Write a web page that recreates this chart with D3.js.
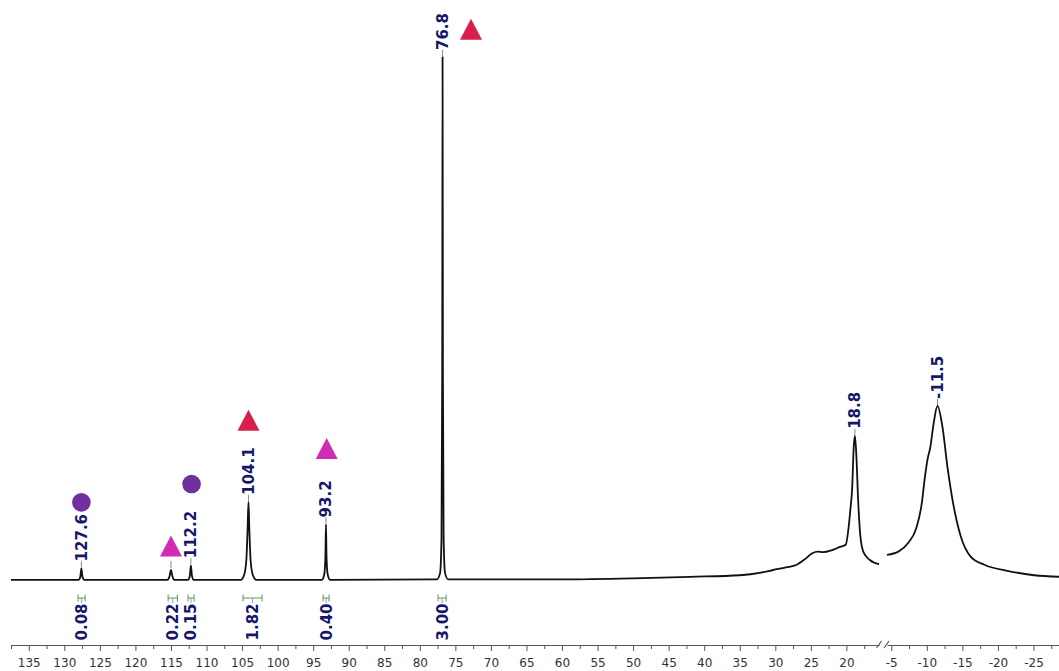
<!DOCTYPE html>
<html>
<head>
<meta charset="utf-8">
<script src="https://cdn.jsdelivr.net/npm/d3@7"></script>
<style>
  body { margin: 0; background: #fff; }
  svg { display: block; font-family: "DejaVu Sans", Verdana, sans-serif; }
</style>
</head>
<body>
<svg id="chart" width="1059" height="671"></svg>
<script>
// spectrum trace, [ppm, intensity] (76.8 peak = 100)
var leftTrace = [
  [137.5, 0.2], [130, 0.2], [128.0, 0.2], [127.75, 0.8], [127.6, 2.4], [127.45, 0.8], [127.2, 0.2],
  [115.5, 0.2], [115.2, 0.9], [115.0, 2.1], [114.8, 0.9], [114.5, 0.2],
  [112.6, 0.2], [112.35, 1.0], [112.2, 3.0], [112.05, 1.0], [111.8, 0.2],
  [105.2, 0.2], [104.7, 1.2], [104.4, 4], [104.22, 10], [104.1, 15.1], [103.98, 10], [103.8, 4], [103.5, 1.2], [103.0, 0.2],
  [93.8, 0.2], [93.45, 1.2], [93.28, 4.5], [93.2, 10.8], [93.12, 4.5], [92.95, 1.2], [92.6, 0.2],
  [77.6, 0.3], [77.15, 1.5], [76.95, 8], [76.85, 40], [76.8, 100], [76.75, 40], [76.65, 8], [76.45, 1.5], [76.0, 0.3],
  [60, 0.3], [50, 0.5], [42, 0.8], [35, 1.1], [32, 1.6], [30.3, 2.1], [28.5, 2.6], [27, 3.1],
  [25.8, 4.2], [24.8, 5.3], [24.0, 5.6], [23.3, 5.5], [22.0, 5.9], [20.9, 6.5], [20.1, 6.9],
  [19.65, 10.7], [19.45, 13.5], [19.2, 17.4], [18.95, 26], [18.8, 27.7], [18.6, 24], [18.35, 15.5],
  [18.05, 8.8], [17.6, 5.5], [16.7, 4.0], [15.4, 3.2]
];
var rightTrace = [
  [-4.4, 5.0], [-6.0, 5.6], [-7.4, 7.3], [-8.5, 10.0], [-9.3, 14.9], [-9.7, 19.5], [-10.1, 23.2],
  [-10.5, 25.6], [-10.95, 30.0], [-11.5, 33.4], [-12.2, 29.4], [-12.9, 21.8], [-13.8, 14.1], [-14.8, 8.4],
  [-16.2, 4.6], [-18.1, 3.1], [-21.5, 1.9], [-25.1, 1.1], [-28.8, 0.8]
];

var peakLabels = ["127.6", "112.2", "104.1", "93.2", "76.8", "18.8", "-11.5"];
var unlabelledPeaks = [115.0];

var integralRanges = [[128.06, 127.07], [115.4, 114.1], [112.6, 111.75], [104.86, 102.19], [93.6, 92.76], [77.43, 76.3]];
var integralValues = ["0.08", "0.22", "0.15", "1.82", "0.40", "3.00"];

var leftTicks = d3.range(135, 19, -5);
var rightTicks = [-5, -10, -15, -20, -25];

var markerPpm = [127.6, 115.0, 112.1, 104.1, 93.1, 72.8];
var markerLevel = [15.0, 6.7, 18.5, 30.7, 25.3, 105.3];
var markerKind = ["circle", "pink", "circle", "red", "pink", "red"];

var colors = { circle: "#7030a0", red: "#d81e4c", pink: "#d22cb2" };
var navy = "#16166a";

var svg = d3.select("#chart");
var axisY = 645;

var xLeft = d3.scaleLinear().domain([137.5, 15.4]).range([11, 879.1]),
    xRight = d3.scaleLinear().domain([-4.4, -28.8]).range([887, 1060.5]),
    y = d3.scaleLinear().domain([0, 100]).range([581, 57]);

function xOf(ppm) { return ppm > 0 ? xLeft(ppm) : xRight(ppm); }

function topOf(ppm) {
  var tr = ppm > 0 ? leftTrace : rightTrace;
  return d3.max(tr.filter(function(p) { return Math.abs(p[0] - ppm) < 0.3; }), function(p) { return p[1]; });
}

// trace
var line = d3.line().x(function(d) { return xOf(d[0]); }).y(function(d) { return y(d[1]); }).curve(d3.curveMonotoneX);
[leftTrace, rightTrace].forEach(function(tr) {
  svg.append("path").attr("d", line(tr)).attr("fill", "none")
    .attr("stroke", "#111").attr("stroke-width", 1.8).attr("stroke-linejoin", "round");
});

// axes
function drawAxis(scale, major, minor) {
  svg.append("g").attr("transform", "translate(0," + axisY + ")")
    .call(d3.axisBottom(scale).tickValues(minor).tickSize(4).tickSizeOuter(0).tickFormat(""))
    .call(function(g) { g.select(".domain").attr("stroke", "#555"); g.selectAll("line").attr("stroke", "#555"); });
  svg.append("g").attr("transform", "translate(0," + axisY + ")")
    .call(d3.axisBottom(scale).tickValues(major).tickSize(6).tickSizeOuter(0).tickPadding(7)
      .tickFormat(function(d) { return String(d); }))
    .call(function(g) {
      g.select(".domain").remove();
      g.selectAll("line").attr("stroke", "#555");
      g.selectAll("text").attr("font-size", 12).attr("fill", "#333")
        .attr("font-family", "'DejaVu Sans', Verdana, sans-serif");
    });
}
drawAxis(xLeft, leftTicks, d3.range(137.5, 15, -2.5).filter(function(v) { return v % 5 !== 0; }));
drawAxis(xRight, rightTicks, [-7.5, -12.5, -17.5, -22.5, -27.5]);

// axis break marks
svg.selectAll(".brk").data([876.5, 884]).enter().append("line")
  .attr("x1", function(d) { return d; }).attr("y1", axisY + 3)
  .attr("x2", function(d) { return d + 5; }).attr("y2", axisY - 4)
  .attr("stroke", "#555").attr("stroke-width", 1.2);

// peak labels with leaders
var gap = 7;
peakLabels.forEach(function(t) {
  var ppm = +t, px = xOf(ppm), top = y(topOf(ppm));
  svg.append("line").attr("x1", px).attr("x2", px).attr("y1", top - 1).attr("y2", top - gap)
    .attr("stroke", "#888").attr("stroke-width", 1);
  svg.append("text").attr("transform", "translate(" + px + "," + (top - gap) + ") rotate(-90)")
    .attr("dy", "0.36em").attr("font-size", 15).attr("font-weight", "bold").attr("fill", navy).text(t);
});
unlabelledPeaks.forEach(function(ppm) {
  var px = xOf(ppm), top = y(topOf(ppm));
  svg.append("line").attr("x1", px).attr("x2", px).attr("y1", top - 2).attr("y2", top - 9)
    .attr("stroke", "#888").attr("stroke-width", 1);
});

// integrals
var intY = 598;
integralRanges.forEach(function(r, i) {
  var a = xLeft(r[0]), b = xLeft(r[1]), c = (a + b) / 2;
  var g = svg.append("g").attr("stroke", "#4f9a66").attr("stroke-width", 1);
  g.append("line").attr("x1", a).attr("x2", b).attr("y1", intY).attr("y2", intY);
  g.append("line").attr("x1", a).attr("x2", a).attr("y1", intY - 3.5).attr("y2", intY + 3.5);
  g.append("line").attr("x1", b).attr("x2", b).attr("y1", intY - 3.5).attr("y2", intY + 3.5);
  g.append("line").attr("x1", c).attr("x2", c).attr("y1", intY).attr("y2", intY + 5).attr("stroke", "#999");
  svg.append("text").attr("transform", "translate(" + c + "," + (intY + 24) + ") rotate(-90)")
    .attr("text-anchor", "middle").attr("dy", "0.36em").attr("font-size", 15).attr("font-weight", "bold")
    .attr("fill", navy).text(integralValues[i]);
});

// markers
markerPpm.forEach(function(ppm, i) {
  var cx = xOf(ppm), cy = y(markerLevel[i]), k = markerKind[i];
  if (k === "circle") {
    svg.append("circle").attr("cx", cx).attr("cy", cy).attr("r", 9.3).attr("fill", colors[k]);
  } else {
    svg.append("path").attr("d", "M" + cx + "," + (cy - 10.5) + "L" + (cx + 11) + "," + (cy + 10.5) + "L" + (cx - 11) + "," + (cy + 10.5) + "Z")
      .attr("fill", colors[k]);
  }
});
</script>
</body>
</html>
